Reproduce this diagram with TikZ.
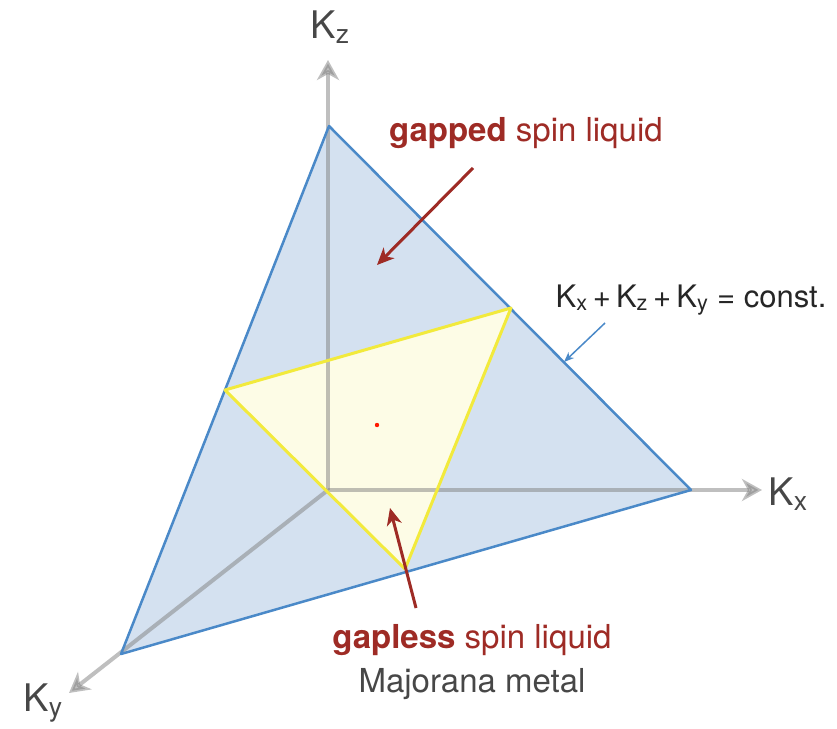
\documentclass[tikz,border=0pt]{standalone}
\usepackage{fontspec}
\setmainfont{TeX Gyre Heros}
\usetikzlibrary{arrows.meta,positioning}
\definecolor{planeblue}{HTML}{4A89C8}
\definecolor{planefill}{HTML}{D4E1F0}
\definecolor{metalyellow}{HTML}{F2EA3C}
\definecolor{metalfill}{HTML}{FDFCE6}
\definecolor{liquidred}{HTML}{9E2B25}
\definecolor{textgray}{HTML}{474747}

\begin{document}
\begin{tikzpicture}[
  x=1pt,y=-1pt,
  axis/.style={-{Stealth[length=20pt,width=22pt,inset=6pt]},line width=4pt,black!50,opacity=0.5},
  axislabel/.style={font=\fontsize{38}{44}\selectfont,text=textgray,inner sep=0pt},
  phaselabel/.style={font=\fontsize{33}{38}\selectfont,text=liquidred,inner sep=0pt},
  notelabel/.style={font=\fontsize{31}{36}\selectfont,text=black!85,inner sep=0pt},
  redarrow/.style={-{Stealth[length=17pt,width=15pt,inset=5pt]},line width=3pt,liquidred},
  bluearrow/.style={-{Stealth[length=10pt,width=8pt,inset=3pt]},line width=1.5pt,planeblue},
]
\useasboundingbox (0,0) rectangle (837,728);

% Corners of the K-plane and of the Majorana-metal region
\coordinate (origin) at (328,490);
\coordinate (ptop) at (329,126);
\coordinate (pright) at (691,490);
\coordinate (pleft) at (121,654);
\coordinate (mleft) at (225,390);
\coordinate (mright) at (511,308);
\coordinate (mbottom) at (405,569);

% Fills
\fill[planefill] (ptop) -- (pright) -- (pleft) -- cycle;
\fill[metalfill] (mleft) -- (mright) -- (mbottom) -- cycle;

% Axes
\coordinate (kztip) at (328,60);
\coordinate (kxtip) at (762,490);
\coordinate (kytip) at (69,693);
\draw[axis] (origin) -- (kztip);
\draw[axis] (origin) -- (kxtip);
\draw[axis] (origin) -- (kytip);

% Outlines
\draw[planeblue,line width=2.5pt,line join=round] (ptop) -- (pright) -- (pleft) -- cycle;
\draw[metalyellow,line width=3pt,line join=round] (mleft) -- (mright) -- (mbottom) -- cycle;
\fill[red!80!orange] (377,425) circle (2.2pt);

% Axis labels
\node[axislabel] (kzlab) at (330,27) {K\textsubscript{z}};
\node[axislabel] (kxlab) at (788,494) {K\textsubscript{x}};
\node[axislabel] (kylab) at (43,703) {K\textsubscript{y}};

% Phase labels
\node[phaselabel] (gapped) at (526,133) {\textbf{gapped} spin liquid};
\node[phaselabel] (gapless) at (472,640) {\textbf{gapless} spin liquid};
\node[phaselabel,text=textgray,below=12pt of gapless] (majorana) {Majorana metal};
\node[notelabel] (const) at (691,300) {K\textsubscript{x}\,+\,K\textsubscript{z}\,+\,K\textsubscript{y} = const.};

% Pointers
\coordinate (gappedtail) at (473,168);
\coordinate (gappedtip) at (377,265);
\coordinate (gaplesstail) at (416,608);
\coordinate (gaplesstip) at (390,508);
\coordinate (consttail) at (605,323);
\coordinate (consttip) at (564,362);
\draw[redarrow] (gappedtail) -- (gappedtip);
\draw[redarrow] (gaplesstail) -- (gaplesstip);
\draw[bluearrow] (consttail) -- (consttip);

\end{tikzpicture}
\end{document}
